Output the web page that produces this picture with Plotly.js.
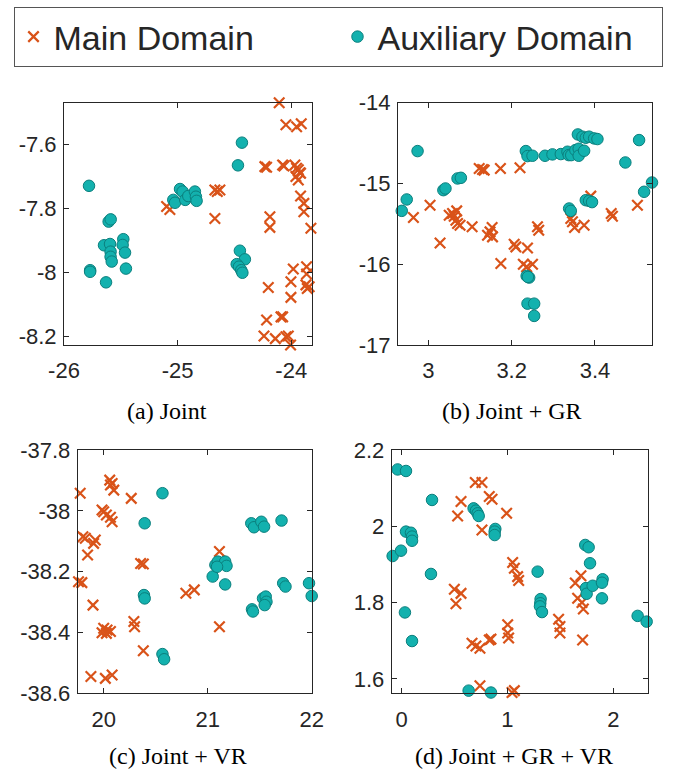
<!DOCTYPE html>
<html>
<head>
<meta charset="utf-8">
<script src="https://cdn.plot.ly/plotly-3.0.1.min.js"></script>
<style>html,body{margin:0;padding:0;background:#fff;}#chart{width:676px;height:773px;}</style>
</head>
<body>
<div id="chart"></div>
<script>
// ---------- data ----------
var seriesNames = ["Main Domain", "Auxiliary Domain"];
var captions = ["(a) Joint", "(b) Joint + GR", "(c) Joint + VR", "(d) Joint + GR + VR"];

// (a) Joint
var aMainX = [-25.097,-25.068,-24.672,-24.651,-24.628,-24.672,-24.106,-24.047,-23.953,-23.912,-24.232,-24.217,-24.076,-24.064,-23.968,-23.953,-23.938,-23.924,-23.959,-23.938,-23.918,-23.918,-23.889,-23.889,-23.827,-24.188,-24.188,-23.982,-23.865,-23.865,-23.871,-23.859,-23.842,-24.202,-24.003,-24.003,-24.09,-24.076,-24.217,-24.24,-24.14,-24.047,-24.026,-24.006];
var aMainY = [-7.795,-7.804,-7.743,-7.748,-7.743,-7.832,-7.470,-7.539,-7.545,-7.536,-7.670,-7.672,-7.665,-7.668,-7.665,-7.675,-7.680,-7.689,-7.701,-7.712,-7.691,-7.762,-7.785,-7.811,-7.863,-7.827,-7.860,-7.990,-7.983,-8.006,-8.040,-8.051,-8.046,-8.048,-8.030,-8.079,-8.140,-8.140,-8.150,-8.200,-8.208,-8.202,-8.200,-8.228];
var aAuxX = [-25.78,-25.607,-25.589,-25.648,-25.595,-25.59,-25.59,-25.58,-25.77,-25.77,-25.63,-25.478,-25.484,-25.463,-25.455,-25.038,-25.023,-24.979,-24.956,-24.933,-24.906,-24.848,-24.839,-24.833,-24.434,-24.469,-24.452,-24.408,-24.48,-24.46,-24.44,-24.43];
var aAuxY = [-7.73,-7.842,-7.835,-7.916,-7.912,-7.936,-7.952,-7.967,-7.994,-7.999,-8.032,-7.897,-7.915,-7.939,-7.989,-7.774,-7.783,-7.740,-7.748,-7.774,-7.762,-7.748,-7.764,-7.777,-7.595,-7.666,-7.933,-7.960,-7.975,-7.983,-7.994,-8.002];

// (b) Joint + GR
var bMainX = [2.926,2.964,3.004,3.028,3.050,3.058,3.062,3.066,3.068,3.070,3.076,3.105,3.122,3.130,3.134,3.173,3.220,3.142,3.148,3.154,3.153,3.174,3.206,3.210,3.238,3.228,3.236,3.250,3.262,3.265,3.342,3.346,3.351,3.374,3.390,3.439,3.442,3.502];
var bMainY = [-15.124,-15.421,-15.269,-15.736,-15.393,-15.372,-15.405,-15.455,-15.339,-15.496,-15.517,-15.537,-14.814,-14.826,-14.835,-14.814,-14.806,-15.640,-15.599,-15.661,-15.545,-15.992,-15.752,-15.785,-15.798,-16.0,-16.033,-16.0,-15.537,-15.579,-15.434,-15.475,-15.545,-15.517,-15.157,-15.372,-15.405,-15.269];
var bAuxX = [2.974,2.936,2.948,3.036,3.041,3.070,3.078,3.234,3.238,3.250,3.280,3.298,3.318,3.334,3.337,3.343,3.353,3.361,3.361,3.359,3.370,3.378,3.386,3.398,3.406,3.374,3.473,3.506,3.518,3.537,3.338,3.342,3.378,3.386,3.393,3.236,3.242,3.239,3.238,3.254,3.254];
var bAuxY = [-14.599,-15.339,-15.198,-15.083,-15.062,-14.938,-14.930,-14.599,-14.661,-14.657,-14.657,-14.640,-14.636,-14.607,-14.649,-14.649,-14.587,-14.570,-14.657,-14.393,-14.421,-14.434,-14.421,-14.442,-14.450,-14.595,-14.740,-14.463,-15.103,-14.988,-15.310,-15.339,-15.207,-15.215,-15.231,-16.145,-16.165,-16.157,-16.488,-16.488,-16.640];

// (c) Joint + VR
var cMainX = [19.774,20.058,20.065,20.097,20.081,20.265,19.984,20.0,20.026,20.065,20.081,19.8,19.823,19.919,19.903,19.845,19.758,19.790,19.897,20.355,20.381,20.0,20.032,20.065,20.026,19.984,20.29,20.297,20.381,19.877,20.016,20.081,20.790,20.871,21.113,21.113];
var cMainY = [-37.942,-37.899,-37.915,-37.932,-37.910,-37.959,-37.997,-38.003,-38.014,-38.021,-38.036,-38.085,-38.090,-38.096,-38.107,-38.145,-38.233,-38.236,-38.310,-38.173,-38.175,-38.386,-38.392,-38.397,-38.403,-38.401,-38.364,-38.381,-38.460,-38.545,-38.551,-38.540,-38.271,-38.260,-38.134,-38.381];
var cAuxX = [20.565,20.394,20.387,20.394,20.565,20.581,21.048,21.074,21.097,21.168,21.181,21.090,21.168,21.419,21.445,21.516,21.542,21.71,21.426,21.435,21.532,21.558,21.565,21.548,21.726,21.748,21.974,22.0];
var cAuxY = [-37.942,-38.041,-38.277,-38.288,-38.471,-38.488,-38.216,-38.178,-38.167,-38.167,-38.181,-38.184,-38.242,-38.041,-38.054,-38.036,-38.052,-38.032,-38.324,-38.331,-38.288,-38.282,-38.299,-38.310,-38.238,-38.249,-38.238,-38.280];

// (d) Joint + GR + VR
var dMainX = [0.696,0.759,0.561,0.529,0.828,0.854,0.759,0.992,0.498,0.561,0.513,1.049,1.065,1.096,1.106,0.665,0.702,0.740,0.828,0.844,0.740,1.002,1.002,1.011,1.043,1.065,1.483,1.496,1.496,1.641,1.694,1.663,1.704,1.717,1.710];
var dMainY = [2.115,2.115,2.065,2.027,2.078,2.071,1.990,2.034,1.835,1.824,1.797,1.905,1.890,1.868,1.858,1.693,1.686,1.680,1.702,1.704,1.582,1.742,1.720,1.707,1.564,1.569,1.756,1.737,1.720,1.851,1.870,1.811,1.800,1.783,1.702];
var dAuxX = [-0.038,0.041,0.287,-0.085,-0.006,0.041,0.088,0.098,0.098,0.277,0.031,0.098,0.680,0.702,0.718,0.728,0.885,0.879,0.879,0.633,0.844,1.285,1.313,1.310,1.307,1.326,1.735,1.767,1.780,1.742,1.748,1.805,1.899,1.893,1.893,2.230,2.315];
var dAuxY = [2.149,2.145,2.069,1.922,1.936,1.986,1.983,1.973,1.962,1.875,1.774,1.699,2.047,2.041,2.034,2.027,1.993,1.986,1.977,1.569,1.564,1.881,1.809,1.798,1.790,1.775,1.951,1.945,1.903,1.838,1.823,1.844,1.861,1.852,1.811,1.765,1.750];

// tick values / labels
var aXTicks = [-26,-25,-24], aXLabels = ["-26","-25","-24"];
var aYTicks = [-8.2,-8,-7.8,-7.6], aYLabels = ["-8.2","-8","-7.8","-7.6"];
var bXTicks = [3,3.2,3.4], bXLabels = ["3","3.2","3.4"];
var bYTicks = [-17,-16,-15,-14], bYLabels = ["-17","-16","-15","-14"];
var cXTicks = [20,21,22], cXLabels = ["20","21","22"];
var cYTicks = [-38.6,-38.4,-38.2,-38,-37.8], cYLabels = ["-38.6","-38.4","-38.2","-38","-37.8"];
var dXTicks = [0,1,2], dXLabels = ["0","1","2"];
var dYTicks = [1.6,1.8,2,2.2], dYLabels = ["1.6","1.8","2","2.2"];

// ---------- styling ----------
var W = 676, H = 773;
var ORANGE = "#D95319", TEAL = "#13B1AE", TEAL_EDGE = "#0B7F7D", AXC = "#262626";

var panels = [
  {mx:aMainX,my:aMainY,ax:aAuxX,ay:aAuxY,xr:[-26.0,-23.82],yr:[-8.228,-7.47],xt:aXTicks,xl:aXLabels,yt:aYTicks,yl:aYLabels,px:[64,311.7],py:[102.7,345]},
  {mx:bMainX,my:bMainY,ax:bAuxX,ay:bAuxY,xr:[2.927,3.537],yr:[-17,-14],xt:bXTicks,xl:bXLabels,yt:bYTicks,yl:bYLabels,px:[398,652],py:[102.7,345]},
  {mx:cMainX,my:cMainY,ax:cAuxX,ay:cAuxY,xr:[19.75,22],yr:[-38.6,-37.8],xt:cXTicks,xl:cXLabels,yt:cYTicks,yl:cYLabels,px:[77.7,311.7],py:[450,693.3]},
  {mx:dMainX,my:dMainY,ax:dAuxX,ay:dAuxY,xr:[-0.094,2.325],yr:[1.562,2.2],xt:dXTicks,xl:dXLabels,yt:dYTicks,yl:dYLabels,px:[391.7,647.7],py:[450,693.3]}
];
var captionPos = [[167,411],[512,411],[178,756],[514,756]];

var traces = [];
var layout = {
  width: W, height: H,
  margin: {l:0, r:0, t:0, b:0},
  paper_bgcolor: "#fff", plot_bgcolor: "#fff",
  font: {family: "Liberation Sans, Arial, sans-serif", color: AXC},
  showlegend: true,
  legend: {
    orientation: "h", x: 0.5, xanchor: "center", y: 1 - 7/H, yanchor: "top",
    bordercolor: "#555", borderwidth: 1, bgcolor: "#fff",
    font: {size: 34, family: "Liberation Sans, Arial, sans-serif", color: AXC},
    itemsizing: "trace", entrywidth: 279, tracegroupgap: 0
  },
  annotations: []
};

panels.forEach(function(p, i) {
  var n = i + 1;
  var xa = "x" + (n === 1 ? "" : n), ya = "y" + (n === 1 ? "" : n);
  traces.push({
    type: "scatter", mode: "markers", x: p.mx, y: p.my, xaxis: xa, yaxis: ya,
    name: seriesNames[0], legendgroup: "main", showlegend: i === 0, cliponaxis: false,
    marker: {symbol: "x-thin", size: 10.5, color: ORANGE, line: {color: ORANGE, width: 2.2}}
  });
  traces.push({
    type: "scatter", mode: "markers", x: p.ax, y: p.ay, xaxis: xa, yaxis: ya,
    name: seriesNames[1], legendgroup: "aux", showlegend: i === 0, cliponaxis: false,
    marker: {symbol: "circle", size: 11.5, color: TEAL, line: {color: TEAL_EDGE, width: 1}}
  });
  var axCommon = {
    showgrid: false, zeroline: false, showline: true, linecolor: AXC, linewidth: 1,
    mirror: "ticks", ticks: "inside", ticklen: 5, tickwidth: 1, tickcolor: AXC,
    tickfont: {size: 22, family: "Liberation Sans, Arial, sans-serif", color: AXC},
    tickmode: "array", fixedrange: true
  };
  layout["xaxis" + (n === 1 ? "" : n)] = Object.assign({}, axCommon, {
    domain: [p.px[0]/W, p.px[1]/W], range: p.xr, anchor: ya,
    tickvals: p.xt, ticktext: p.xl, ticklabelstandoff: 6
  });
  layout["yaxis" + (n === 1 ? "" : n)] = Object.assign({}, axCommon, {
    domain: [1 - p.py[1]/H, 1 - p.py[0]/H], range: p.yr, anchor: xa,
    tickvals: p.yt, ticktext: p.yl, ticklabelstandoff: 2
  });
  layout.annotations.push({
    xref: "paper", yref: "paper", x: captionPos[i][0]/W, y: 1 - captionPos[i][1]/H,
    xanchor: "center", yanchor: "middle", showarrow: false, text: captions[i],
    font: {family: "Liberation Serif, Times New Roman, serif", size: 24, color: "#000"}
  });
});

Plotly.newPlot("chart", traces, layout, {displayModeBar: false, staticPlot: true});
</script>
</body>
</html>
